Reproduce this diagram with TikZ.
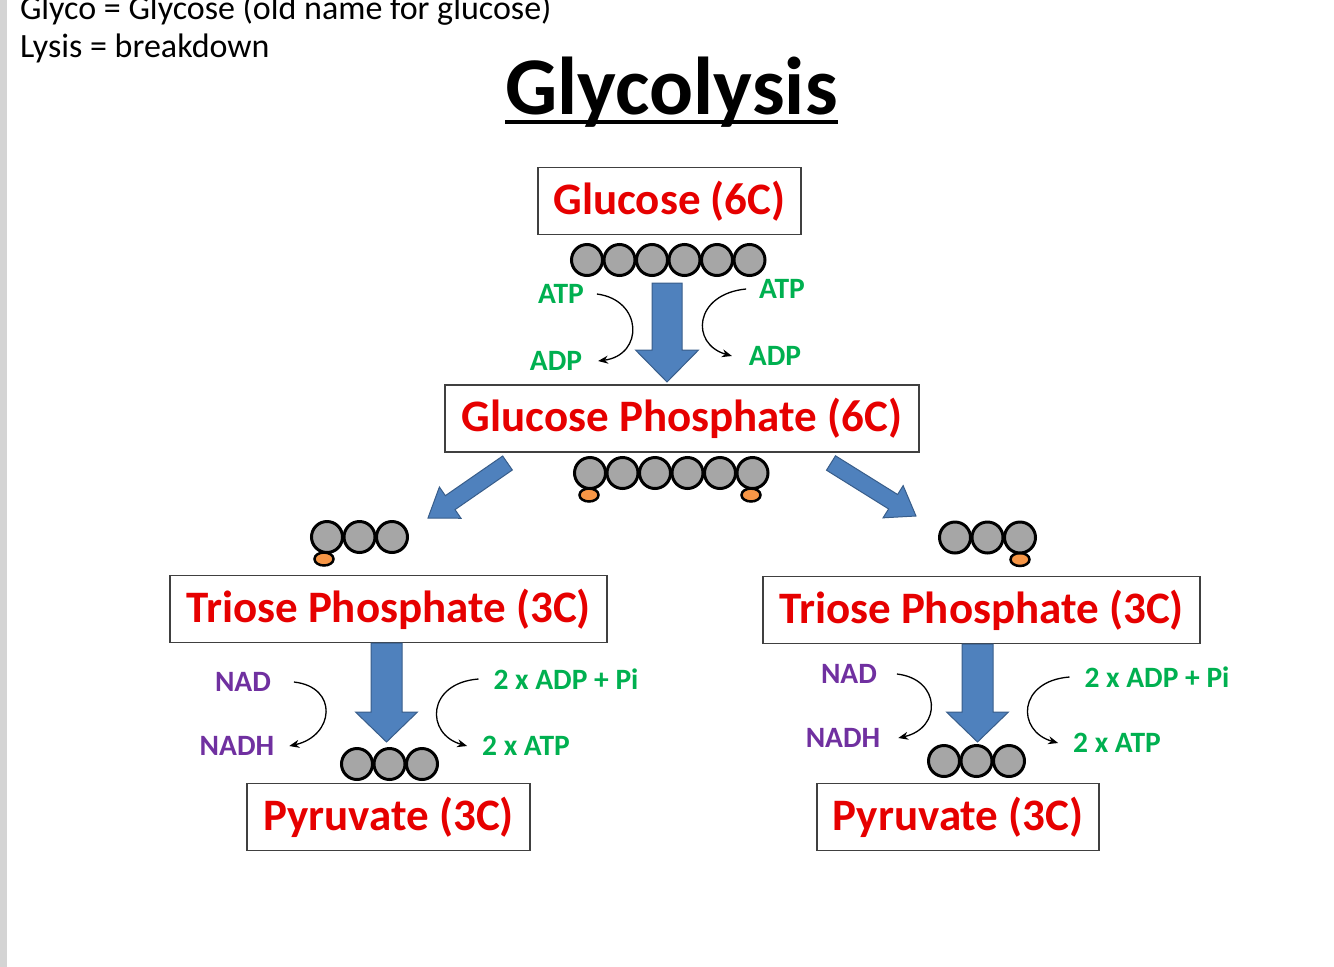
\documentclass[tikz,border=0pt]{standalone}
\usepackage{fontspec}
\setmainfont{Carlito}
\usetikzlibrary{calc,arrows.meta,shapes.geometric}
\definecolor{glyred}{RGB}{230,0,0}
\definecolor{atpgreen}{RGB}{0,176,80}
\definecolor{nadpurple}{RGB}{112,48,160}
\definecolor{arrowblue}{RGB}{79,129,189}
\definecolor{arrowedge}{RGB}{56,93,138}
\definecolor{carbongray}{RGB}{166,166,166}
\definecolor{phosorange}{RGB}{247,150,70}
\newcommand{\carbonchain}[4]{\foreach \k in {1,...,#4}{\node[carbon] (#1-\k) at ({#2+32.5*(\k-1)},#3) {};}}
\newcommand{\fatarrow}[5]{%
  \coordinate (neck) at ($(#2)!#5!(#1)$);
  \draw[fatarrow] ($(#1)!#3!90:(#2)$) -- ($(neck)!#3!-90:(#1)$) -- ($(neck)!#4!-90:(#1)$) -- (#2) -- ($(neck)!#4!90:(#1)$) -- ($(neck)!#3!90:(#1)$) -- ($(#1)!#3!-90:(#2)$) -- cycle;}
\begin{document}
\begin{tikzpicture}[x=1pt,y=-1pt,every node/.style={inner sep=0pt, outer sep=0pt},
  stagebox/.style={draw=black!75, line width=1.2pt, text=glyred, font=\fontsize{45}{54}\selectfont\bfseries, minimum height=67pt},
  atplabel/.style={text=atpgreen, font=\fontsize{29.5}{35}\selectfont\bfseries},
  nadlabel/.style={text=nadpurple, font=\fontsize{29.5}{35}\selectfont\bfseries},
  carbon/.style={circle, draw=black, line width=3pt, fill=carbongray, minimum size=31pt},
  phosphate/.style={ellipse, draw=black, line width=2.5pt, fill=phosorange, minimum width=19pt, minimum height=13pt},
  cofactor/.style={-{Stealth[length=10pt,width=8pt]}, line width=1.3pt},
  fatarrow/.style={fill=arrowblue, draw=arrowedge, line width=1pt}]
\clip (0,0) rectangle (1334,967);
\fill[black!17] (0,0) rectangle (7,967);
\node[anchor=base west, font=\fontsize{34}{40}\selectfont] (glyco) at (20,19) {Glyco = Glycose (old name for glucose)};
\node[anchor=base west, font=\fontsize{34}{40}\selectfont] (lysis) at (20,57) {Lysis = breakdown};
\node[anchor=base, font=\fontsize{82}{98}\selectfont\bfseries] (title) at (671.5,114) {Glycolysis};
\draw[line width=4pt] ([yshift=-8pt]title.base west) -- ([yshift=-8pt]title.base east);
\node[stagebox, minimum width=263pt] (glucose) at (669.5,201) {Glucose (6C)};
\node[stagebox, minimum width=474pt] (gphos) at (682,418.5) {Glucose Phosphate (6C)};
\node[stagebox, minimum width=437pt] (trioseL) at (388.5,609) {Triose Phosphate (3C)};
\node[stagebox, minimum width=437pt] (trioseR) at (981.5,610) {Triose Phosphate (3C)};
\node[stagebox, minimum width=283pt] (pyrL) at (388.5,817) {Pyruvate (3C)};
\node[stagebox, minimum width=282pt] (pyrR) at (958,817) {Pyruvate (3C)};
\carbonchain{top}{587}{260}{6}
\node[phosphate] (phM1) at (589,495) {};
\node[phosphate] (phM2) at (751,495) {};
\carbonchain{mid}{590}{473}{6}
\node[phosphate] (phL) at (324,559) {};
\carbonchain{triL}{327}{537}{3}
\node[phosphate] (phR) at (1020,559.5) {};
\carbonchain{triR}{955}{537.5}{3}
\carbonchain{pyrL}{357}{764}{3}
\carbonchain{pyrR}{944}{761}{3}
\coordinate (t1) at (667,283); \coordinate (h1) at (667,382);
\coordinate (t2) at (507.5,463); \coordinate (h2) at (428,518);
\coordinate (t3) at (831,463); \coordinate (h3) at (916,516);
\coordinate (t4) at (386.5,643); \coordinate (h4) at (386.5,742);
\coordinate (t5) at (977.5,644); \coordinate (h5) at (977.5,742);
\fatarrow{t1}{h1}{15pt}{31.5pt}{32pt}
\fatarrow{t2}{h2}{8.5pt}{19pt}{27pt}
\fatarrow{t3}{h3}{8.5pt}{19pt}{27pt}
\fatarrow{t4}{h4}{15.5pt}{31pt}{30pt}
\fatarrow{t5}{h5}{15.5pt}{31pt}{30pt}
\node[atplabel] (atpL) at (561,294) {ATP};
\node[atplabel] (adpL) at (556,361) {ADP};
\node[atplabel] (atpR) at (782,289) {ATP};
\node[atplabel] (adpR) at (775,356) {ADP};
\node[nadlabel] (nadL) at (243,682) {NAD};
\node[nadlabel] (nadhL) at (237,746) {NADH};
\node[atplabel] (adpiL) at (566,679) {2 x ADP + Pi};
\node[atplabel] (atp2L) at (526,746) {2 x ATP};
\node[nadlabel] (nadR) at (849,674) {NAD};
\node[nadlabel] (nadhR) at (843,738) {NADH};
\node[atplabel] (adpiR) at (1157,677) {2 x ADP + Pi};
\node[atplabel] (atp2R) at (1117,743) {2 x ATP};
\draw[cofactor] ([xshift=13pt]atpL.east) .. controls +(46,6) and +(46,-6) .. ([xshift=16pt]adpL.east);
\draw[cofactor] ([xshift=-13pt]atpR.west) .. controls +(-52,5) and +(-42,-12) .. ([xshift=-17pt]adpR.west);
\draw[cofactor] ([xshift=23pt]nadL.east) .. controls +(45,5) and +(45,-10) .. ([xshift=15pt]nadhL.east);
\draw[cofactor] ([xshift=-15pt]adpiL.west) .. controls +(-52,4) and +(-42,-12) .. ([xshift=-15pt]atp2L.west);
\draw[cofactor] ([xshift=20pt]nadR.east) .. controls +(44,5) and +(44,-10) .. ([xshift=18pt]nadhR.east);
\draw[cofactor] ([xshift=-15pt]adpiR.west) .. controls +(-52,4) and +(-42,-12) .. ([xshift=-15pt]atp2R.west);
\end{tikzpicture}
\end{document}
